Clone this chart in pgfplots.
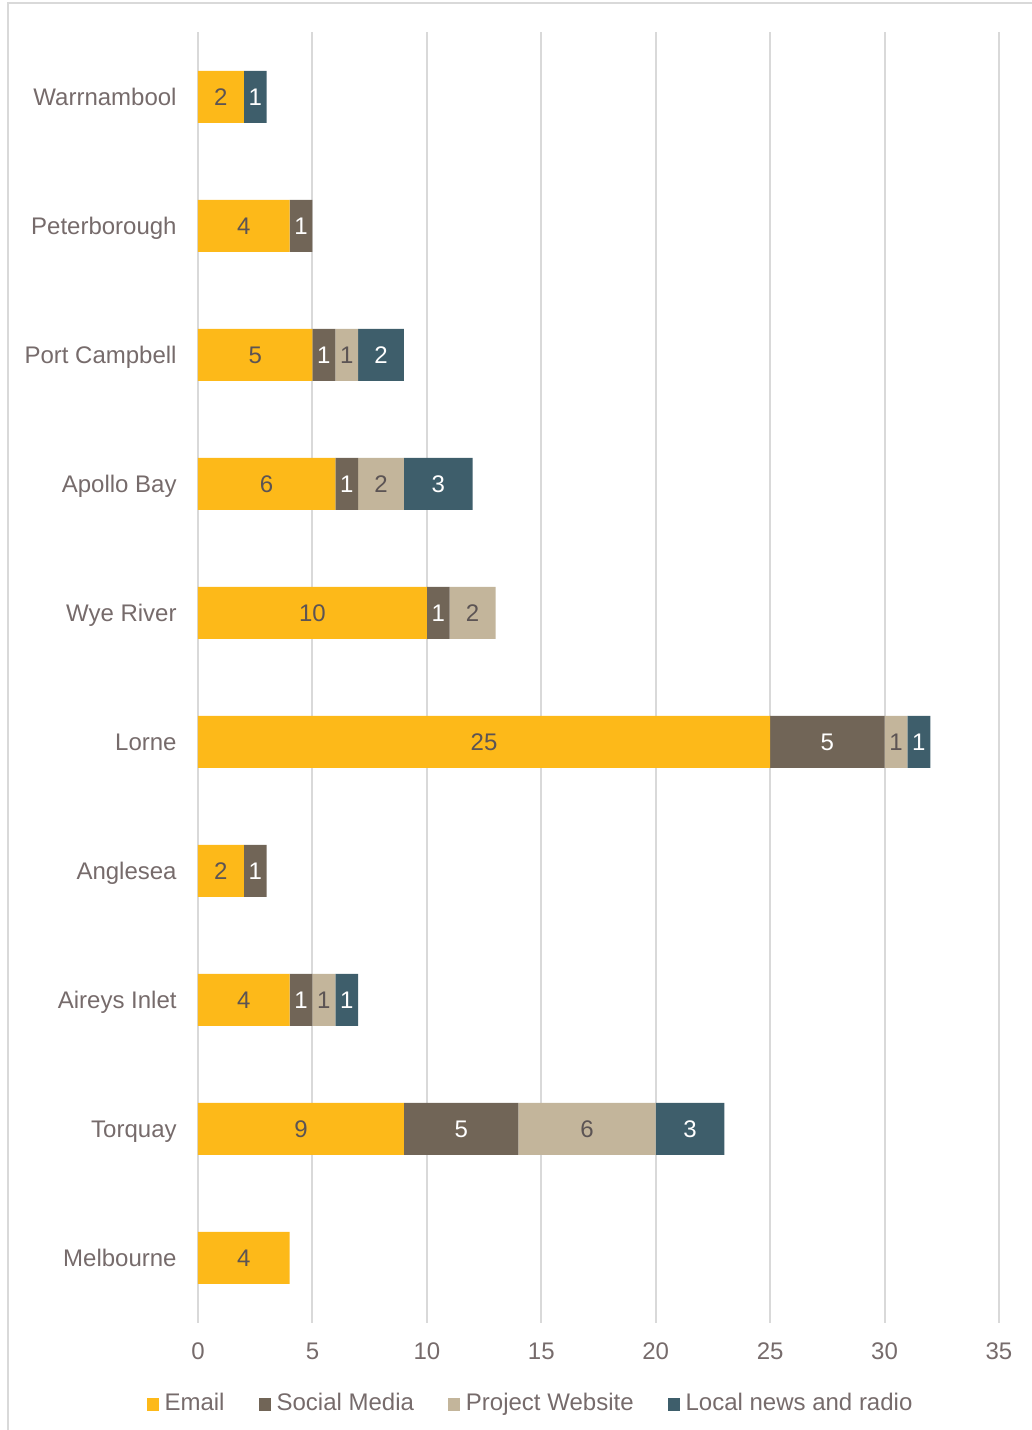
\documentclass[border=0pt]{standalone}
\usepackage{pgfplots}
\pgfplotsset{compat=1.18}
\usepackage{fontspec}
\setmainfont{Liberation Sans}
\definecolor{cEmail}{RGB}{253,185,25}
\definecolor{cSocial}{RGB}{113,101,87}
\definecolor{cWeb}{RGB}{195,181,155}
\definecolor{cNews}{RGB}{62,94,107}
\definecolor{cText}{RGB}{118,107,107}
\definecolor{cLab}{RGB}{92,84,84}
\definecolor{cGrid}{RGB}{217,217,217}
\pgfplotsset{
  sqlegend/.style={legend image code/.code={\fill[##1] (0pt,-3.25pt) rectangle (6pt,3.25pt);}},
}
\begin{document}
\begin{tikzpicture}
\useasboundingbox (0,0) rectangle (516pt,715pt);
\draw[cGrid, line width=1pt] (4pt,0) -- (4pt,713.5pt) -- (516pt,713.5pt);
\begin{axis}[
  at={(99pt,53.75pt)}, anchor=south west,
  scale only axis, width=400.5pt, height=645pt,
  xbar stacked, bar width=26pt,
  xmin=0, xmax=35, ymin=-0.5, ymax=9.5,
  xtick={0,5,...,35},
  ytick={0,...,9},
  yticklabels={Melbourne,Torquay,Aireys Inlet,Anglesea,Lorne,Wye River,Apollo Bay,Port Campbell,Peterborough,Warrnambool},
  axis line style={draw=none},
  major tick length=0pt,
  xmajorgrids, ymajorgrids=false,
  major grid style={cGrid, line width=1pt},
  /pgf/number format/assume math mode=true,
  tick label style={font=\fontsize{12}{14}\selectfont, text=cText},
  xticklabel style={anchor=center, yshift=-14.25pt},
  yticklabel style={anchor=east, inner sep=0pt, xshift=-10.5pt, text height=8.6pt, text depth=0pt},
  point meta=explicit symbolic,
  nodes near coords={\ifdim\pgfplotspointmeta pt=0pt\else\pgfplotspointmeta\fi},
  every node near coord/.append style={font=\fontsize{12}{14}\selectfont, anchor=center},
  legend columns=4,
  legend style={at={(0.4176,-0.0632)}, anchor=center, draw=none, fill=none,
    font=\fontsize{12}{14}\selectfont, text=cText, inner sep=0pt,
    nodes={inner xsep=3pt, inner ysep=1.5pt, text height=8.6pt, text depth=2.5pt},
    /tikz/every even column/.append style={column sep=14pt}},
]
\addplot[fill=cEmail, draw=none, sqlegend, every node near coord/.append style={text=cLab}] coordinates {
  (4,0) [4] (9,1) [9] (4,2) [4] (2,3) [2] (25,4) [25] (10,5) [10] (6,6) [6] (5,7) [5] (4,8) [4] (2,9) [2]};
\addlegendentry{Email}
\addplot[fill=cSocial, draw=none, sqlegend, every node near coord/.append style={text=white}] coordinates {
  (0,0) [0] (5,1) [5] (1,2) [1] (1,3) [1] (5,4) [5] (1,5) [1] (1,6) [1] (1,7) [1] (1,8) [1] (0,9) [0]};
\addlegendentry{Social Media}
\addplot[fill=cWeb, draw=none, sqlegend, every node near coord/.append style={text=cLab}] coordinates {
  (0,0) [0] (6,1) [6] (1,2) [1] (0,3) [0] (1,4) [1] (2,5) [2] (2,6) [2] (1,7) [1] (0,8) [0] (0,9) [0]};
\addlegendentry{Project Website}
\addplot[fill=cNews, draw=none, sqlegend, every node near coord/.append style={text=white}] coordinates {
  (0,0) [0] (3,1) [3] (1,2) [1] (0,3) [0] (1,4) [1] (0,5) [0] (3,6) [3] (2,7) [2] (0,8) [0] (1,9) [1]};
\addlegendentry{Local news and radio}
\end{axis}
\end{tikzpicture}
\end{document}
